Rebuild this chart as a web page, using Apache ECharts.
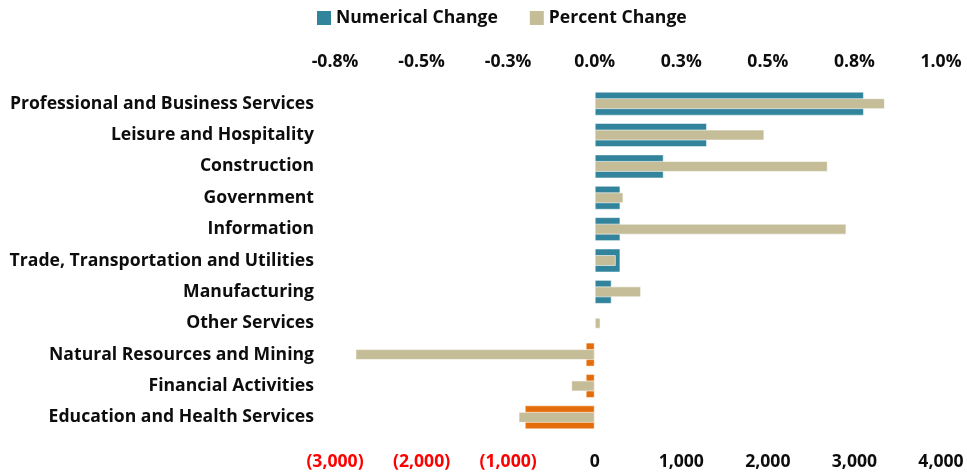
<!DOCTYPE html>
<html>
<head>
<meta charset="utf-8">
<script src="https://cdn.jsdelivr.net/npm/echarts@6/dist/echarts.min.js"></script>
<style>
  html, body { margin: 0; padding: 0; background: #fff; }
  #chart { width: 967px; height: 474px; }
</style>
</head>
<body>
<div id="chart"></div>
<script>
  let categories = ['Professional and Business Services', 'Leisure and Hospitality', 'Construction',
    'Government', 'Information', 'Trade, Transportation and Utilities', 'Manufacturing',
    'Other Services', 'Natural Resources and Mining', 'Financial Activities', 'Education and Health Services']
  let numericalChange = [3110, 1297, 797, 297, 297, 297, 196, 0, -104, -104, -808]
  let percentChange = [0.838, 0.490, 0.673, 0.083, 0.727, 0.061, 0.134, 0.017, -0.691, -0.068, -0.220]

  let font = 'Open Sans'
  let teal = '#31849b'
  let textColor = '#0d0d0d'
  let myChart = echarts.init(document.getElementById('chart'))
  let option = {
    animation: false,
    textStyle: {fontFamily: font},
    legend: {
      top: 4,
      left: 312,
      icon: 'rect',
      itemWidth: 14,
      itemHeight: 14,
      itemGap: 32,
      textStyle: {fontSize: 17.6, fontWeight: 'bold', color: textColor, fontFamily: font},
      data: [{name: 'Numerical Change', itemStyle: {color: teal, borderWidth: 0}},
        {name: 'Percent Change', itemStyle: {borderWidth: 0}}]
    },
    grid: {left: 335, right: 26, top: 88, bottom: 41},
    xAxis: [{
      type: 'value',
      position: 'bottom',
      min: -3000,
      max: 4000,
      interval: 1000,
      splitLine: {show: false},
      axisLine: {show: false},
      axisTick: {show: false},
      axisLabel: {
        margin: 20,
        fontSize: 17.6,
        fontWeight: 'bold',
        fontFamily: font,
        color: v => v < 0 ? '#ff0000' : textColor,
        formatter: v => v < 0 ? '(' + Math.abs(v).toLocaleString('en-US') + ')' : v.toLocaleString('en-US')
      }
    }, {
      type: 'value',
      position: 'top',
      min: -0.75,
      max: 1.0,
      interval: 0.25,
      splitLine: {show: false},
      axisLine: {show: false},
      axisTick: {show: false},
      axisLabel: {
        margin: 17,
        fontSize: 17.6,
        fontWeight: 'bold',
        fontFamily: font,
        color: textColor,
        formatter: v => v.toFixed(1) + '%'
      }
    }],
    yAxis: [{
      type: 'category',
      inverse: true,
      data: categories,
      axisLine: {show: false},
      axisTick: {show: false},
      axisLabel: {
        margin: 21,
        fontSize: 17.6,
        fontWeight: 'bold',
        fontFamily: font,
        color: textColor,
        padding: [7, 0, 0, 0]
      }
    }, {
      type: 'category',
      inverse: true,
      show: false,
      data: categories
    }],
    series: [{
      name: 'Numerical Change',
      type: 'bar',
      xAxisIndex: 0,
      yAxisIndex: 0,
      barWidth: 24,
      itemStyle: {
        color: p => p.value < 0 ? '#e46c0a' : teal,
        borderColor: 'rgba(255,255,255,0.5)',
        borderWidth: 1
      },
      data: numericalChange
    }, {
      name: 'Percent Change',
      type: 'bar',
      xAxisIndex: 1,
      yAxisIndex: 1,
      barWidth: 11,
      itemStyle: {
        color: '#c4bd97',
        borderColor: 'rgba(255,255,255,0.6)',
        borderWidth: 1
      },
      data: percentChange
    }]
  }
  myChart.setOption(option)
</script>
</body>
</html>
